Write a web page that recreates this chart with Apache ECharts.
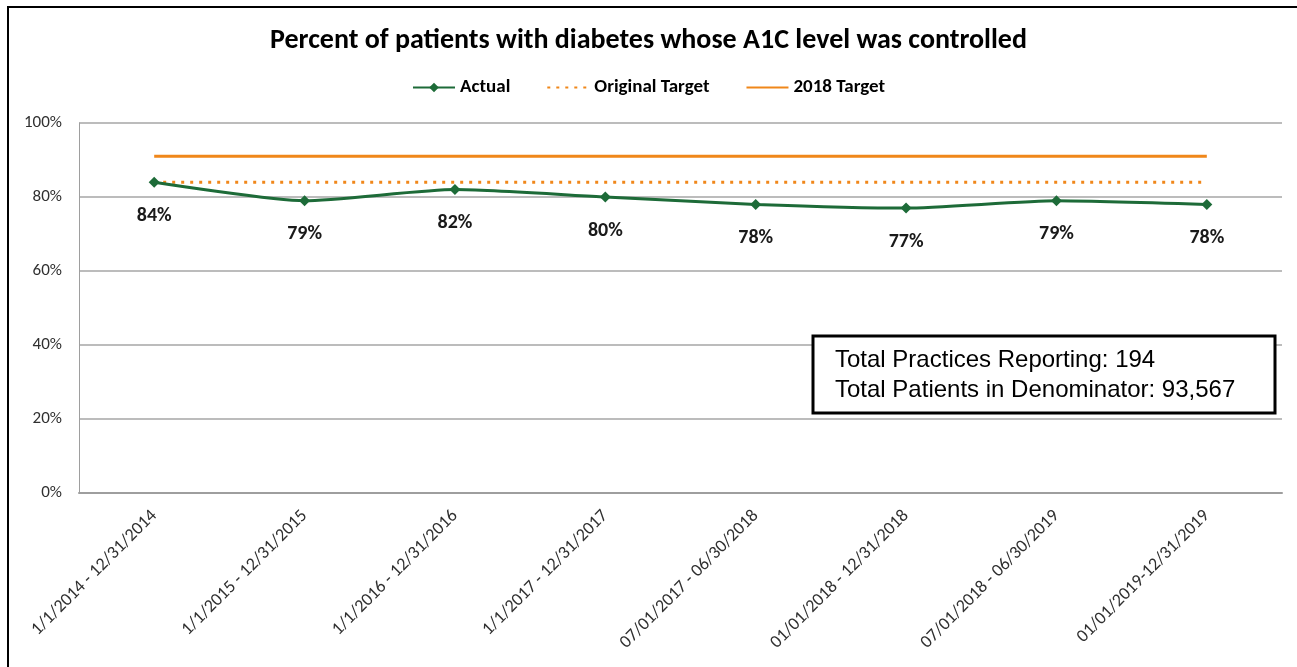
<!DOCTYPE html>
<html lang="en">
<head>
    <meta charset="UTF-8">
    <title>A1C controlled</title>
    <script src="https://cdn.jsdelivr.net/npm/echarts@6/dist/echarts.min.js"></script>
    <style>
        html, body { margin: 0; padding: 0; background: #fff; }
    </style>
</head>
<body>
    <div id="pic1" style="width:1297px;height:667px;"></div>
    <script>
        // 数据
        var categories = ['1/1/2014 - 12/31/2014', '1/1/2015 - 12/31/2015', '1/1/2016 - 12/31/2016',
            '1/1/2017 - 12/31/2017', '07/01/2017 - 06/30/2018', '01/01/2018 - 12/31/2018',
            '07/01/2018 - 06/30/2019', '01/01/2019-12/31/2019'];
        var actual = [84, 79, 82, 80, 78, 77, 79, 78];
        var originalTarget = [84, 84, 84, 84, 84, 84, 84, 84];
        var target2018 = [91, 91, 91, 91, 91, 91, 91, 91];
        var yTicks = [0, 20, 40, 60, 80, 100];
        var noteLines = ['Total Practices Reporting: 194', 'Total Patients in Denominator: 93,567'];

        var font = 'Carlito, "Liberation Sans Narrow", "Open Sans", sans-serif';
        var green = '#1d6b38';
        var orange = '#f0871a';

        var myChart = echarts.init(document.getElementById('pic1'));

        var option = {
            backgroundColor: '#fff',
            animation: false,
            title: {
                text: 'Percent of patients with diabetes whose A1C level was controlled',
                left: 'center',
                top: 22,
                textStyle: { fontFamily: font, fontSize: 28, fontWeight: 'bold', color: '#000' }
            },
            legend: {
                top: 73,
                left: 'center',
                itemGap: 36,
                itemWidth: 42,
                itemHeight: 12,
                textStyle: { fontFamily: font, fontSize: 19, fontWeight: 'bold', color: '#000' },
                data: [
                    'Actual',
                    { name: 'Original Target', itemStyle: { opacity: 0 } },
                    { name: '2018 Target', itemStyle: { opacity: 0 } }
                ]
            },
            grid: { left: 79, right: 15, top: 123, bottom: 174 },
            xAxis: {
                type: 'category',
                boundaryGap: true,
                data: categories,
                axisLine: { lineStyle: { color: '#9e9e9e', width: 2 } },
                axisTick: { show: false },
                axisLabel: {
                    interval: 0,
                    rotate: 45,
                    margin: 20,
                    fontFamily: font,
                    fontSize: 18,
                    color: '#303030'
                }
            },
            yAxis: {
                type: 'value',
                min: 0,
                max: 100,
                interval: 20,
                axisLine: { show: true, lineStyle: { color: '#9e9e9e', width: 1 } },
                axisTick: { show: false },
                splitLine: { lineStyle: { color: '#a6a6a6', width: 1.5 } },
                axisLabel: {
                    margin: 17,
                    fontFamily: font,
                    fontSize: 17,
                    color: '#303030',
                    formatter: function (v) { return yTicks.indexOf(v) >= 0 ? v + '%' : ''; }
                }
            },
            series: [
                {
                    name: 'Actual',
                    type: 'line',
                    data: actual,
                    symbol: 'diamond',
                    symbolSize: 11,
                    smooth: 0.2,
                    z: 5,
                    itemStyle: { color: green },
                    lineStyle: { color: green, width: 3 },
                    label: {
                        show: true,
                        position: 'bottom',
                        distance: 18,
                        fontFamily: font,
                        fontSize: 20,
                        fontWeight: 'bold',
                        color: '#1a1a1a',
                        formatter: '{c}%'
                    }
                },
                {
                    name: 'Original Target',
                    type: 'line',
                    data: originalTarget,
                    symbol: 'none',
                    itemStyle: { color: orange },
                    lineStyle: { color: orange, width: 3, type: [3, 6] }
                },
                {
                    name: '2018 Target',
                    type: 'line',
                    data: target2018,
                    symbol: 'none',
                    itemStyle: { color: orange },
                    lineStyle: { color: orange, width: 3 }
                }
            ],
            graphic: [
                {
                    type: 'rect',
                    shape: { x: 8, y: 7, width: 1310, height: 700 },
                    style: { fill: 'none', stroke: '#000', lineWidth: 2 },
                    silent: true
                },
                {
                    type: 'rect',
                    shape: { x: 813, y: 336, width: 462, height: 77 },
                    style: { fill: '#fff', stroke: '#000', lineWidth: 3 },
                    z: 10
                },
                {
                    type: 'text',
                    left: 835,
                    top: 345,
                    z: 11,
                    style: {
                        text: noteLines.join('\n'),
                        font: '24px "Liberation Sans", Arial, sans-serif',
                        lineHeight: 30,
                        fill: '#000'
                    }
                }
            ]
        };

        myChart.setOption(option);
    </script>
</body>
</html>
